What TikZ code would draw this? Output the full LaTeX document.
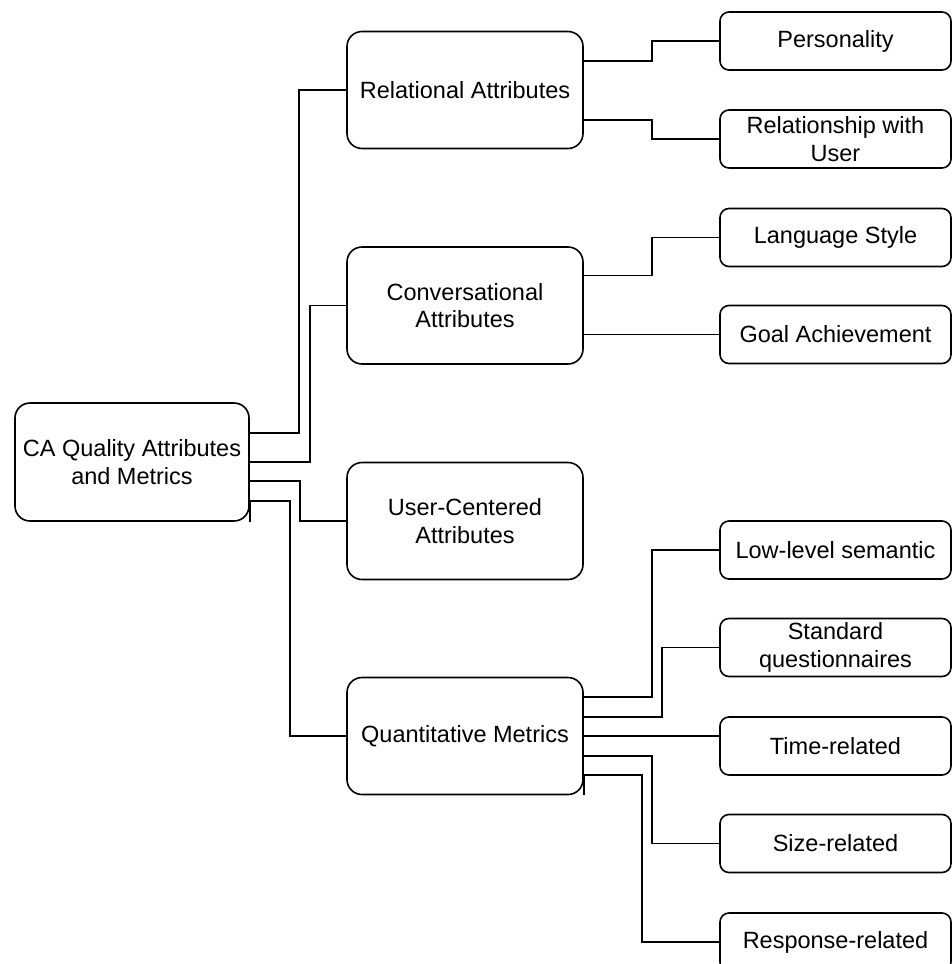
\documentclass[tikz,border=0pt]{standalone}
\usepackage{fontspec}
\setmainfont{Liberation Sans}
\usetikzlibrary{calc}
\begin{document}
\begin{tikzpicture}[x=1pt,y=-1pt,
  every node/.style={font=\fontsize{23.5}{27.5}\selectfont},
  box/.style={draw,line width=1.6pt,rounded corners=15pt,align=center,inner sep=0pt},
  rootbox/.style={box,minimum width=234pt,minimum height=118pt},
  midbox/.style={box,minimum width=236pt,minimum height=117pt},
  leafbox/.style={box,rounded corners=9pt,minimum width=231pt,minimum height=58pt},
  conn/.style={line width=1.6pt}]
\useasboundingbox (0,0) rectangle (952,964);
\clip (0,0) rectangle (952,964);
% root
\node[rootbox] (root) at (132,462) {CA Quality Attributes\\and Metrics};
% middle column
\node[midbox] (rel) at (465,90) {Relational Attributes};
\node[midbox] (conv) at (465,305.5) {Conversational\\Attributes};
\node[midbox] (user) at (465,521) {User-Centered\\Attributes};
\node[midbox] (quant) at (465,736) {Quantitative Metrics};
% leaves
\node[leafbox] (pers) at (835.5,41) {Personality};
\node[leafbox] (relu) at (835.5,139) {Relationship with\\User};
\node[leafbox] (lang) at (835.5,237.5) {Language Style};
\node[leafbox] (goal) at (835.5,334.5) {Goal Achievement};
\node[leafbox] (low) at (835.5,550) {Low-level semantic};
\node[leafbox] (stdq) at (835.5,647.5) {Standard\\questionnaires};
\node[leafbox] (time) at (835.5,746) {Time-related};
\node[leafbox] (size) at (835.5,843.5) {Size-related};
\node[leafbox] (resp) at (835.5,942) {Response-related};
% port quirks
\draw[conn] (root.south east) -- ++(0,-20);
\draw[conn] (quant.south east) -- ++(0,-20);
% root connectors
\draw[conn] ($(root.east)+(0,-29)$) -- ++(49,0) |- (rel.west);
\draw[conn] ($(root.east)+(0,0)$) -- ++(60,0) |- (conv.west);
\draw[conn] ($(root.east)+(0,19)$) -- ++(50,0) |- (user.west);
\draw[conn] ($(root.east)+(0,39)$) -- ++(40,0) |- (quant.west);
% relational
\draw[conn] ($(rel.east)+(0,-29)$) -- ++(68,0) |- (pers.west);
\draw[conn] ($(rel.east)+(0,30)$) -- ++(68,0) |- (relu.west);
% conversational
\draw[conn] ($(conv.east)+(0,-30)$) -- ++(68,0) |- (lang.west);
\coordinate (cg) at ($(conv.east)+(0,29)$);
\draw[conn] (cg) -- (cg -| goal.west);
% quantitative
\draw[conn] ($(quant.east)+(0,-39)$) -- ++(68,0) |- (low.west);
\draw[conn] ($(quant.east)+(0,-19)$) -- ++(78,0) |- (stdq.west);
\draw[conn] (quant.east) -- (quant.east -| time.west);
\draw[conn] ($(quant.east)+(0,20)$) -- ++(68,0) |- (size.west);
\draw[conn] ($(quant.east)+(0,39)$) -- ++(58,0) |- (resp.west);
\end{tikzpicture}
\end{document}
